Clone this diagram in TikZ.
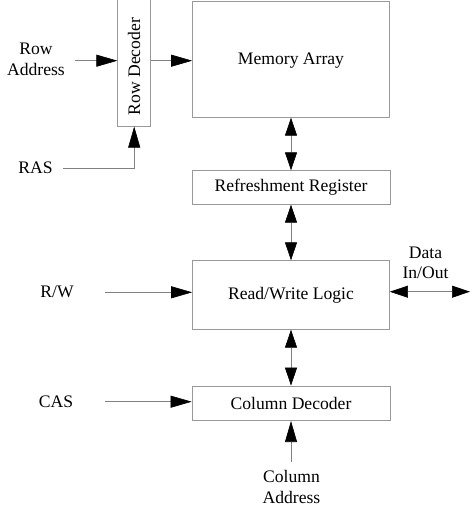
\documentclass[tikz,border=0pt]{standalone}
\usepackage{fontspec}
\setmainfont{Liberation Serif}
\usetikzlibrary{arrows.meta}

\begin{document}
\begin{tikzpicture}[x=1bp,y=-1bp]
	\tikzstyle{block}=[draw=gray!80,line width=0.7bp,inner sep=0pt,font=\fontsize{17.6bp}{20.6bp}\selectfont]
	\tikzstyle{label}=[align=center,inner sep=0pt,font=\fontsize{17.6bp}{20.6bp}\selectfont]
	\tikzstyle{sig}=[draw=gray,line width=0.6bp,-{Triangle[length=21bp,width=12bp,color=black]}]
	\tikzstyle{both}=[draw=gray,line width=0.6bp,{Triangle[length=18bp,width=12bp,color=black]}-{Triangle[length=18bp,width=12bp,color=black]}]

	\useasboundingbox (0,0) rectangle (474,508);

	\node (rowdec) [block, minimum width=33bp, minimum height=127bp] at (134.2,62.7) {\raisebox{-52.5bp}[0pt][0pt]{\rotatebox{90}{Row Decoder}}};
	\node (memory) [block, minimum width=197bp, minimum height=116bp] at (291,59.3) {\raisebox{-5.7bp}[0pt][0pt]{Memory Array}};
	\node (refresh) [block, minimum width=198bp, minimum height=33.6bp] at (291,187.5) {Refreshment Register};
	\node (rwlogic) [block, minimum width=197bp, minimum height=68.6bp] at (291,295) {Read/Write Logic};
	\node (coldec) [block, minimum width=198bp, minimum height=34.7bp] at (291,403.3) {Column Decoder};

	\node (rowaddr) [label] at (36,59.5) {Row\\Address};
	\node (ras) [label] at (35.5,168) {RAS};
	\node (rw) [label] at (57,292.3) {R/W};
	\node (cas) [label] at (56,401.7) {CAS};
	\node (data) [label] at (425.5,263) {Data\\In/Out};
	\node (coladdr) [label] at (291.5,487) {Column\\Address};

	\coordinate (rowin) at (75,60.7);
	\coordinate (rasin) at (63,168);
	\coordinate (rwin) at (105,292.3);
	\coordinate (casin) at (105,401.7);
	\coordinate (dataio) at (470,291.7);
	\coordinate (colin) at (291,461.7);

	% address and strobe inputs
	\draw[sig] (rowin) -- (rowin -| rowdec.west);
	\draw[sig] (rowin -| rowdec.east) -- (rowin -| memory.west);
	\draw[sig] (rasin) -| (rowdec.south);
	\draw[sig] (rwin) -- (rwin -| rwlogic.west);
	\draw[sig] (casin) -- (casin -| coldec.west);
	\draw[sig] (colin) -- (coldec.south);

	% data paths
	\draw[both] (memory.south) -- (refresh.north);
	\draw[both] (refresh.south) -- (rwlogic.north);
	\draw[both] (rwlogic.south) -- (coldec.north);
	\draw[both] (dataio -| rwlogic.east) -- (dataio);
\end{tikzpicture}
\end{document}
